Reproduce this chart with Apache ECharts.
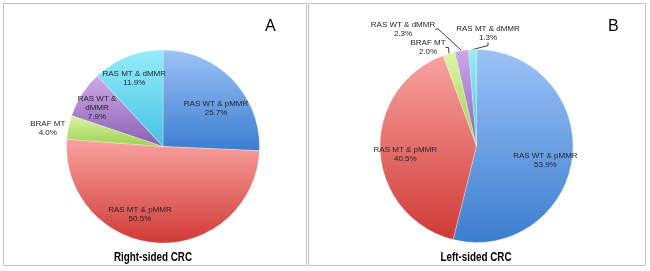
<!DOCTYPE html>
<html>
<head>
<meta charset="utf-8">
<script src="https://cdn.jsdelivr.net/npm/echarts@6/dist/echarts.min.js"></script>
<style>
  html, body { margin: 0; padding: 0; background: #fff; }
  #chart { width: 650px; height: 271px; }
</style>
</head>
<body>
<div id="chart"></div>
<script>
const categories = ["RAS WT & pMMR", "RAS MT & pMMR", "BRAF MT", "RAS WT & dMMR", "RAS MT & dMMR"];
const rightSided = [25.7, 50.5, 4.0, 7.9, 11.9];
const leftSided = [53.9, 40.5, 2.0, 2.3, 1.3];
const panelTitles = ["Right-sided CRC", "Left-sided CRC"];
const panelLetters = ["A", "B"];

const FONT = "'Liberation Sans', Arial, sans-serif";

// light (top) -> dark (bottom), Excel style
const shades = [
  ["#9cc3f7", "#3c7dcf"],
  ["#f9a3a0", "#cf3a36"],
  ["#dcf6a8", "#9ccf4c"],
  ["#cdaaea", "#8b5fb3"],
  ["#95ecfb", "#45c2e4"]
];
const grad = (i) => new echarts.graphic.LinearGradient(0, 0, 0, 1, [
  { offset: 0, color: shades[i][0] },
  { offset: 1, color: shades[i][1] }
]);

// label nudges, pixels
const rightOffsets = [[16, -3], [-20, 17], [-65, -8], [-23, -11], [-10, -20]];
const rightWrap = [false, false, false, true, false];
const leftOffsets = [[18, 8], [-20, 6]];
// where the callout labels of the thin left-sided slices sit (label centres)
const leftCallouts = [null, null, [428, 47.5], [403, 29], [488, 33.5]];

const labelText = (name, v, wrap) => {
  const n = wrap ? name.replace(" & ", " &\n") : name;
  return n + "\n" + v.toFixed(1) + "%";
};

const rightData = categories.map((c, i) => ({
  name: c,
  value: rightSided[i],
  itemStyle: { color: grad(i) },
  label: {
    position: "inside",
    offset: rightOffsets[i],
    formatter: labelText(c, rightSided[i], rightWrap[i])
  }
}));

const leftData = categories.map((c, i) => {
  const inside = i < 2;
  return {
    name: c,
    value: leftSided[i],
    itemStyle: { color: grad(i) },
    label: inside ? {
      position: "inside",
      offset: leftOffsets[i],
      formatter: labelText(c, leftSided[i], false)
    } : {
      position: "outside",
      formatter: labelText(c, leftSided[i], false)
    },
    labelLine: inside ? { show: false } : { show: true, length: 8, length2: 3 }
  };
});

const baseLabel = {
  color: "#262626",
  fontFamily: FONT,
  fontSize: 8,
  lineHeight: 9,
  align: "center"
};

const titleText = (txt, x) => ({
  type: "text", x: x, y: 258, scaleX: 0.82,
  style: { text: txt, fill: "#000", font: "bold 12px " + FONT, align: "center", verticalAlign: "middle" }
});

const chart = echarts.init(document.getElementById("chart"), null, { renderer: "canvas" });
chart.setOption({
  animation: false,
  backgroundColor: "#fff",
  graphic: [
    { type: "rect", shape: { x: 3.5, y: 3.5, width: 303, height: 262 },
      style: { fill: "none", stroke: "#c4c4c4", lineWidth: 1 } },
    { type: "rect", shape: { x: 308.5, y: 3.5, width: 337, height: 262 },
      style: { fill: "none", stroke: "#c4c4c4", lineWidth: 1 } },
    titleText(panelTitles[0], 153),
    titleText(panelTitles[1], 476),
    { type: "text", x: 265, y: 19,
      style: { text: panelLetters[0], fill: "#000", font: "16px " + FONT } },
    { type: "text", x: 608, y: 19,
      style: { text: panelLetters[1], fill: "#000", font: "16px " + FONT } }
  ],
  series: [
    {
      type: "pie",
      center: [163, 146.5],
      radius: 96.5,
      startAngle: 90,
      clockwise: true,
      avoidLabelOverlap: false,
      itemStyle: { borderColor: "rgba(255,255,255,0.6)", borderWidth: 0.5 },
      label: baseLabel,
      labelLine: { show: false },
      emphasis: { disabled: true },
      data: rightData
    },
    {
      type: "pie",
      center: [476.5, 146],
      radius: 96.5,
      startAngle: 90,
      clockwise: true,
      avoidLabelOverlap: false,
      itemStyle: { borderColor: "rgba(255,255,255,0.6)", borderWidth: 0.5 },
      label: baseLabel,
      labelLine: { lineStyle: { color: "#404040", width: 1 } },
      labelLayout: (p) => {
        const pos = leftCallouts[p.dataIndex];
        if (!pos) return {};
        return { x: pos[0], y: pos[1], align: "center", verticalAlign: "middle" };
      },
      emphasis: { disabled: true },
      data: leftData
    }
  ]
});
</script>
</body>
</html>
